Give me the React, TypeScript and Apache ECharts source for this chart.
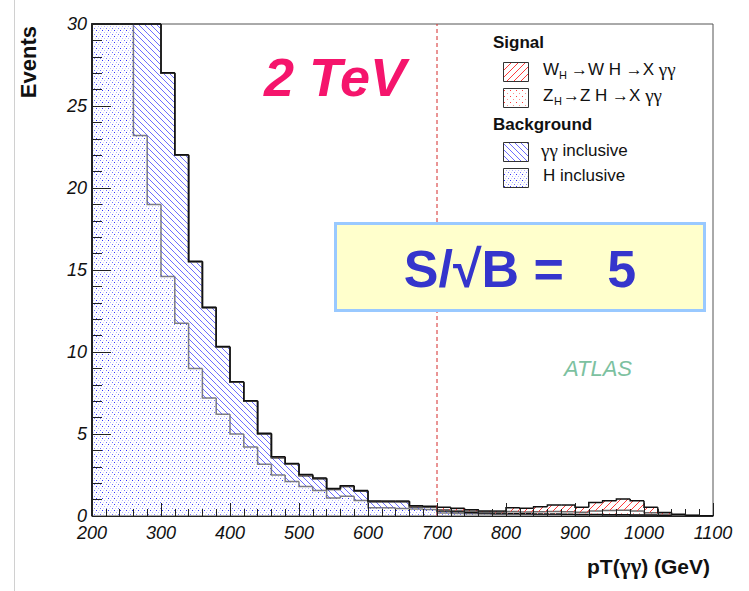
import React, { useEffect, useRef } from "react";
import * as echarts from "echarts";

// Lower edges of the 20 GeV pT bins
const binLowEdges = [
  200, 220, 240, 260, 280, 300, 320, 340, 360, 380,
  400, 420, 440, 460, 480, 500, 520, 540, 560, 580,
  600, 620, 640, 660, 680, 700, 720, 740, 760, 780,
  800, 820, 840, 860, 880, 900, 920, 940, 960, 980,
  1000, 1020, 1040, 1060, 1080,
];
const binWidth = 20;

// Background: H inclusive (bottom of the stack)
const hInclusive = [
  60, 46, 34, 23.2, 19.0, 14.6, 11.75, 9.0, 7.2, 6.2,
  5.0, 4.2, 3.15, 2.5, 2.1, 1.8, 1.55, 1.1, 1.2, 0.95,
  0.5, 0.5, 0.45, 0.42, 0.4, 0.18, 0.16, 0.14, 0.12, 0.1,
  0.1, 0.09, 0.08, 0.08, 0.07, 0.06, 0.06, 0.05, 0.05, 0.04,
  0.04, 0.03, 0.02, 0.01, 0.01,
];
// Background: gamma-gamma inclusive
const ggInclusive = [
  8, 10, 14, 17, 14, 12.4, 10.25, 6.5, 5.5, 4.1,
  3.15, 2.8, 1.85, 1.05, 1.05, 0.66, 0.72, 0.52, 0.6, 0.56,
  0.37, 0.37, 0.42, 0.13, 0.13, 0.12, 0.1, 0.08, 0.06, 0.05,
  0.05, 0.05, 0.04, 0.04, 0.03, 0.03, 0.03, 0.03, 0.02, 0.02,
  0.02, 0.01, 0.01, 0.01, 0,
];
// Signal: Z_H -> Z H -> X gamma gamma
const zhSignal = [
  0.01, 0.01, 0.01, 0.01, 0.01, 0.01, 0.01, 0.01, 0.01, 0.01,
  0.01, 0.01, 0.01, 0.01, 0.01, 0.02, 0.01, 0.02, 0.01, 0.02,
  0.01, 0.01, 0.01, 0.02, 0.02, 0.08, 0.07, 0.07, 0.06, 0.06,
  0.12, 0.1, 0.14, 0.16, 0.16, 0.14, 0.22, 0.26, 0.28, 0.24,
  0.14, 0.06, 0.03, 0.01, 0,
];
// Signal: W_H -> W H -> X gamma gamma (top of the stack)
const whSignal = [
  0.02, 0.02, 0.02, 0.02, 0.02, 0.02, 0.02, 0.02, 0.02, 0.02,
  0.03, 0.02, 0.03, 0.05, 0.04, 0.05, 0.03, 0.04, 0.03, 0.03,
  0.03, 0.03, 0.03, 0.05, 0.05, 0.15, 0.14, 0.09, 0.06, 0.09,
  0.23, 0.23, 0.31, 0.39, 0.41, 0.3, 0.52, 0.59, 0.69, 0.63,
  0.33, 0.12, 0.04, 0.01, 0,
];

const xTickValues = [200, 300, 400, 500, 600, 700, 800, 900, 1000, 1100];
const yTickValues = [0, 5, 10, 15, 20, 25, 30];
const cutValue = 700;
const significance = 5;

const FONT = "'Liberation Sans', Arial, Helvetica, sans-serif";
const GREEK = "'Liberation Serif', 'DejaVu Serif', serif";

const tile = (body: string, size: number) => ({
  image:
    "data:image/svg+xml;charset=utf-8," +
    encodeURIComponent(
      `<svg xmlns="http://www.w3.org/2000/svg" width="${size}" height="${size}">${body}</svg>`
    ),
  repeat: "repeat",
  imageWidth: size,
  imageHeight: size,
});

// Fill patterns: dotted and hatched, blue for background, red for signal
const dotBlue = tile(
  `<rect x="0" y="0" width="1" height="1" fill="#3030ff"/>` +
    `<rect x="2" y="2" width="1" height="1" fill="#b0b0ff"/>` +
    `<rect x="4" y="4" width="1" height="1" fill="#7070ff"/>` +
    `<rect x="3" y="0" width="1" height="1" fill="#d6d6ff"/>` +
    `<rect x="5" y="2" width="1" height="1" fill="#d6d6ff"/>` +
    `<rect x="1" y="4" width="1" height="1" fill="#d6d6ff"/>`,
  6
);
const hatchBlue = tile(
  `<path d="M-1,-1 L7,7 M-1,5 L1,7 M5,-1 L7,1" stroke="#4848ff" stroke-width="0.8" fill="none"/>`,
  6
);
const dotRed = tile(
  `<rect x="0" y="0" width="1" height="1" fill="#ff3a3a"/>` +
    `<rect x="3" y="3" width="1" height="1" fill="#ff9090"/>`,
  6
);
const hatchRed = tile(
  `<path d="M-1,8 L8,-1 M-1,1 L1,-1 M6,8 L8,6" stroke="#ff3b3b" stroke-width="1" fill="none"/>`,
  7
);

const layers = [
  { name: "H inclusive", values: hInclusive, fill: dotBlue, stroke: "#7d7d7d" },
  { name: "γγ inclusive", values: ggInclusive, fill: hatchBlue, stroke: "#111111" },
  { name: "ZH", values: zhSignal, fill: dotRed, stroke: "#6a6a6a" },
  { name: "WH", values: whSignal, fill: hatchRed, stroke: "#111111" },
];

function buildSeries() {
  const cumulative = binLowEdges.map(() => 0);
  const series: any[] = [];
  layers.forEach((layer) => {
    const lower = cumulative.slice();
    layer.values.forEach((v, i) => {
      cumulative[i] += v;
    });
    const upper = cumulative.slice();
    const data = binLowEdges.map((edge, i) => [
      edge,
      edge + binWidth,
      lower[i],
      upper[i],
      i === 0 ? 0 : upper[i - 1],
    ]);
    series.push({
      type: "custom",
      name: layer.name,
      silent: true,
      encode: { x: [0, 1], y: [2, 3] },
      data,
      renderItem: (params: any, api: any) => {
        const x0 = api.value(0);
        const x1 = api.value(1);
        const lo = api.value(2);
        const hi = api.value(3);
        const prev = api.value(4);
        const cs = params.coordSys;
        const top = cs.y;
        const py = (v: number) => Math.max(api.coord([x0, v])[1], top);
        const xL = api.coord([x0, 0])[0];
        const xR = api.coord([x1, 0])[0];
        const yLo = py(lo);
        const yHi = py(hi);
        const yPrev = py(prev);
        return {
          type: "group",
          children: [
            {
              type: "rect",
              shape: { x: xL, y: yHi, width: xR - xL, height: Math.max(yLo - yHi, 0) },
              style: { fill: layer.fill, stroke: null },
            },
            {
              type: "polyline",
              shape: {
                points: [
                  [xL, yPrev],
                  [xL, yHi],
                  [xR, yHi],
                ],
              },
              style: { stroke: layer.stroke, lineWidth: 1.5, fill: null },
            },
          ],
        };
      },
    });
  });
  return series;
}

function buildOption() {
  const series = buildSeries();
  series.push({
    type: "line",
    silent: true,
    data: [
      [cutValue, yTickValues[0]],
      [cutValue, yTickValues[yTickValues.length - 1]],
    ],
    symbol: "none",
    lineStyle: { color: "#d42a2a", width: 1, type: [4, 3] },
    z: 5,
  });

  const legendRow = (y: number, fill: any) => ({
    type: "rect",
    shape: { x: 503.5, y: y + 0.5, width: 25, height: 19 },
    style: { fill, stroke: "#333", lineWidth: 1 },
  });
  const baseStyle = {
    fontFamily: FONT,
    fontSize: 17,
    fill: "#111",
    align: "left",
    verticalAlign: "middle",
  };
  const greekRich = {
    t: { fontFamily: FONT, fontSize: 17, fill: "#111" },
    g: { fontFamily: GREEK, fontSize: 19, fill: "#111" },
  };
  const txt = (x: number, y: number, text: string, extra: any = {}) => ({
    type: "text",
    x,
    y,
    style: { text, ...baseStyle, rich: greekRich, ...extra },
  });

  const labelFormatter = (v: number) => String(v);

  return {
    animation: false,
    backgroundColor: "#ffffff",
    grid: {
      left: 92,
      right: 36,
      top: 24,
      bottom: 75,
      show: true,
      borderColor: "#555",
      borderWidth: 1,
      backgroundColor: "transparent",
    },
    xAxis: {
      type: "value",
      min: xTickValues[0],
      max: xTickValues[xTickValues.length - 1],
      interval: 100,
      z: 10,
      axisLine: { show: true, lineStyle: { color: "#222", width: 1 } },
      axisTick: { show: true, inside: true, length: 13, lineStyle: { color: "#222" } },
      minorTick: { show: true, splitNumber: 5, length: 7, lineStyle: { color: "#222" } },
      splitLine: { show: false },
      axisLabel: {
        show: true,
        margin: 8,
        formatter: labelFormatter,
        fontFamily: FONT,
        fontStyle: "italic",
        fontSize: 18,
        color: "#111",
        showMinLabel: true,
        showMaxLabel: true,
      },
    },
    yAxis: {
      type: "value",
      min: yTickValues[0],
      max: yTickValues[yTickValues.length - 1],
      interval: 5,
      z: 10,
      axisLine: { show: true, lineStyle: { color: "#222", width: 1 } },
      axisTick: { show: true, inside: true, length: 19, lineStyle: { color: "#222" } },
      minorTick: { show: true, splitNumber: 5, length: 10, lineStyle: { color: "#222" } },
      splitLine: { show: false },
      axisLabel: {
        show: true,
        margin: 5,
        formatter: labelFormatter,
        fontFamily: FONT,
        fontStyle: "italic",
        fontSize: 18,
        color: "#111",
        showMinLabel: true,
        showMaxLabel: true,
      },
    },
    series,
    graphic: [
      {
        type: "line",
        shape: { x1: 14.5, y1: 0, x2: 14.5, y2: 591 },
        style: { stroke: "#d0d0d0", lineWidth: 1 },
        silent: true,
      },
      {
        type: "text",
        x: 28,
        y: 26,
        rotation: Math.PI / 2,
        style: {
          text: "Events",
          fontFamily: FONT,
          fontWeight: "bold",
          fontSize: 22,
          fill: "#111",
          align: "right",
          verticalAlign: "middle",
        },
      },
      {
        type: "text",
        x: 710,
        y: 566,
        style: {
          text: "{b|pT(}{g|γγ}{b|) (GeV)}",
          align: "right",
          verticalAlign: "middle",
          rich: {
            b: { fontFamily: FONT, fontWeight: "bold", fontSize: 21, fill: "#111" },
            g: { fontFamily: GREEK, fontWeight: "bold", fontSize: 23, fill: "#111" },
          },
        },
      },
      {
        type: "text",
        x: 335,
        y: 77,
        style: {
          text: "2 TeV",
          fontFamily: FONT,
          fontWeight: "bold",
          fontStyle: "italic",
          fontSize: 54,
          fill: "#f5156c",
          align: "center",
          verticalAlign: "middle",
        },
      },
      // legend
      txt(493, 42, "Signal", { fontWeight: "bold" }),
      legendRow(62, hatchRed),
      txt(543, 69, "W"),
      txt(559, 75, "H", { fontSize: 11 }),
      txt(571, 69, "{t|→W H →X }{g|γγ}"),
      legendRow(88, dotRed),
      txt(543, 95, "Z"),
      txt(554, 101, "H", { fontSize: 11 }),
      txt(563, 95, "{t|→Z H →X }{g|γγ}"),
      txt(493, 124.5, "Background", { fontWeight: "bold" }),
      legendRow(142, hatchBlue),
      txt(541, 150, "{g|γγ}{t| inclusive}"),
      legendRow(168, dotBlue),
      txt(543, 175, "H inclusive"),
      // significance box
      {
        type: "rect",
        shape: { x: 335.5, y: 223.5, width: 369, height: 87 },
        style: { fill: "#ffffcc", stroke: "#99c9ff", lineWidth: 3 },
        z: 20,
      },
      {
        type: "text",
        x: 520,
        y: 269,
        z: 21,
        style: {
          text: `S/√B =   ${significance}`,
          fontFamily: FONT,
          fontWeight: "bold",
          fontSize: 52,
          fill: "#3535cc",
          align: "center",
          verticalAlign: "middle",
        },
      },
      {
        type: "text",
        x: 598,
        y: 368,
        style: {
          text: "ATLAS",
          fontFamily: FONT,
          fontStyle: "italic",
          fontSize: 22,
          fill: "#7cc1a0",
          align: "center",
          verticalAlign: "middle",
        },
      },
    ],
  };
}

export default function App() {
  const ref = useRef<HTMLDivElement>(null);
  useEffect(() => {
    if (!ref.current) return;
    const chart = echarts.init(ref.current, undefined, { renderer: "svg" });
    chart.setOption(buildOption() as any);
    return () => chart.dispose();
  }, []);
  return (
    <div
      ref={ref}
      style={{ position: "fixed", left: 0, top: 0, width: 749, height: 591, background: "#fff" }}
    />
  );
}
